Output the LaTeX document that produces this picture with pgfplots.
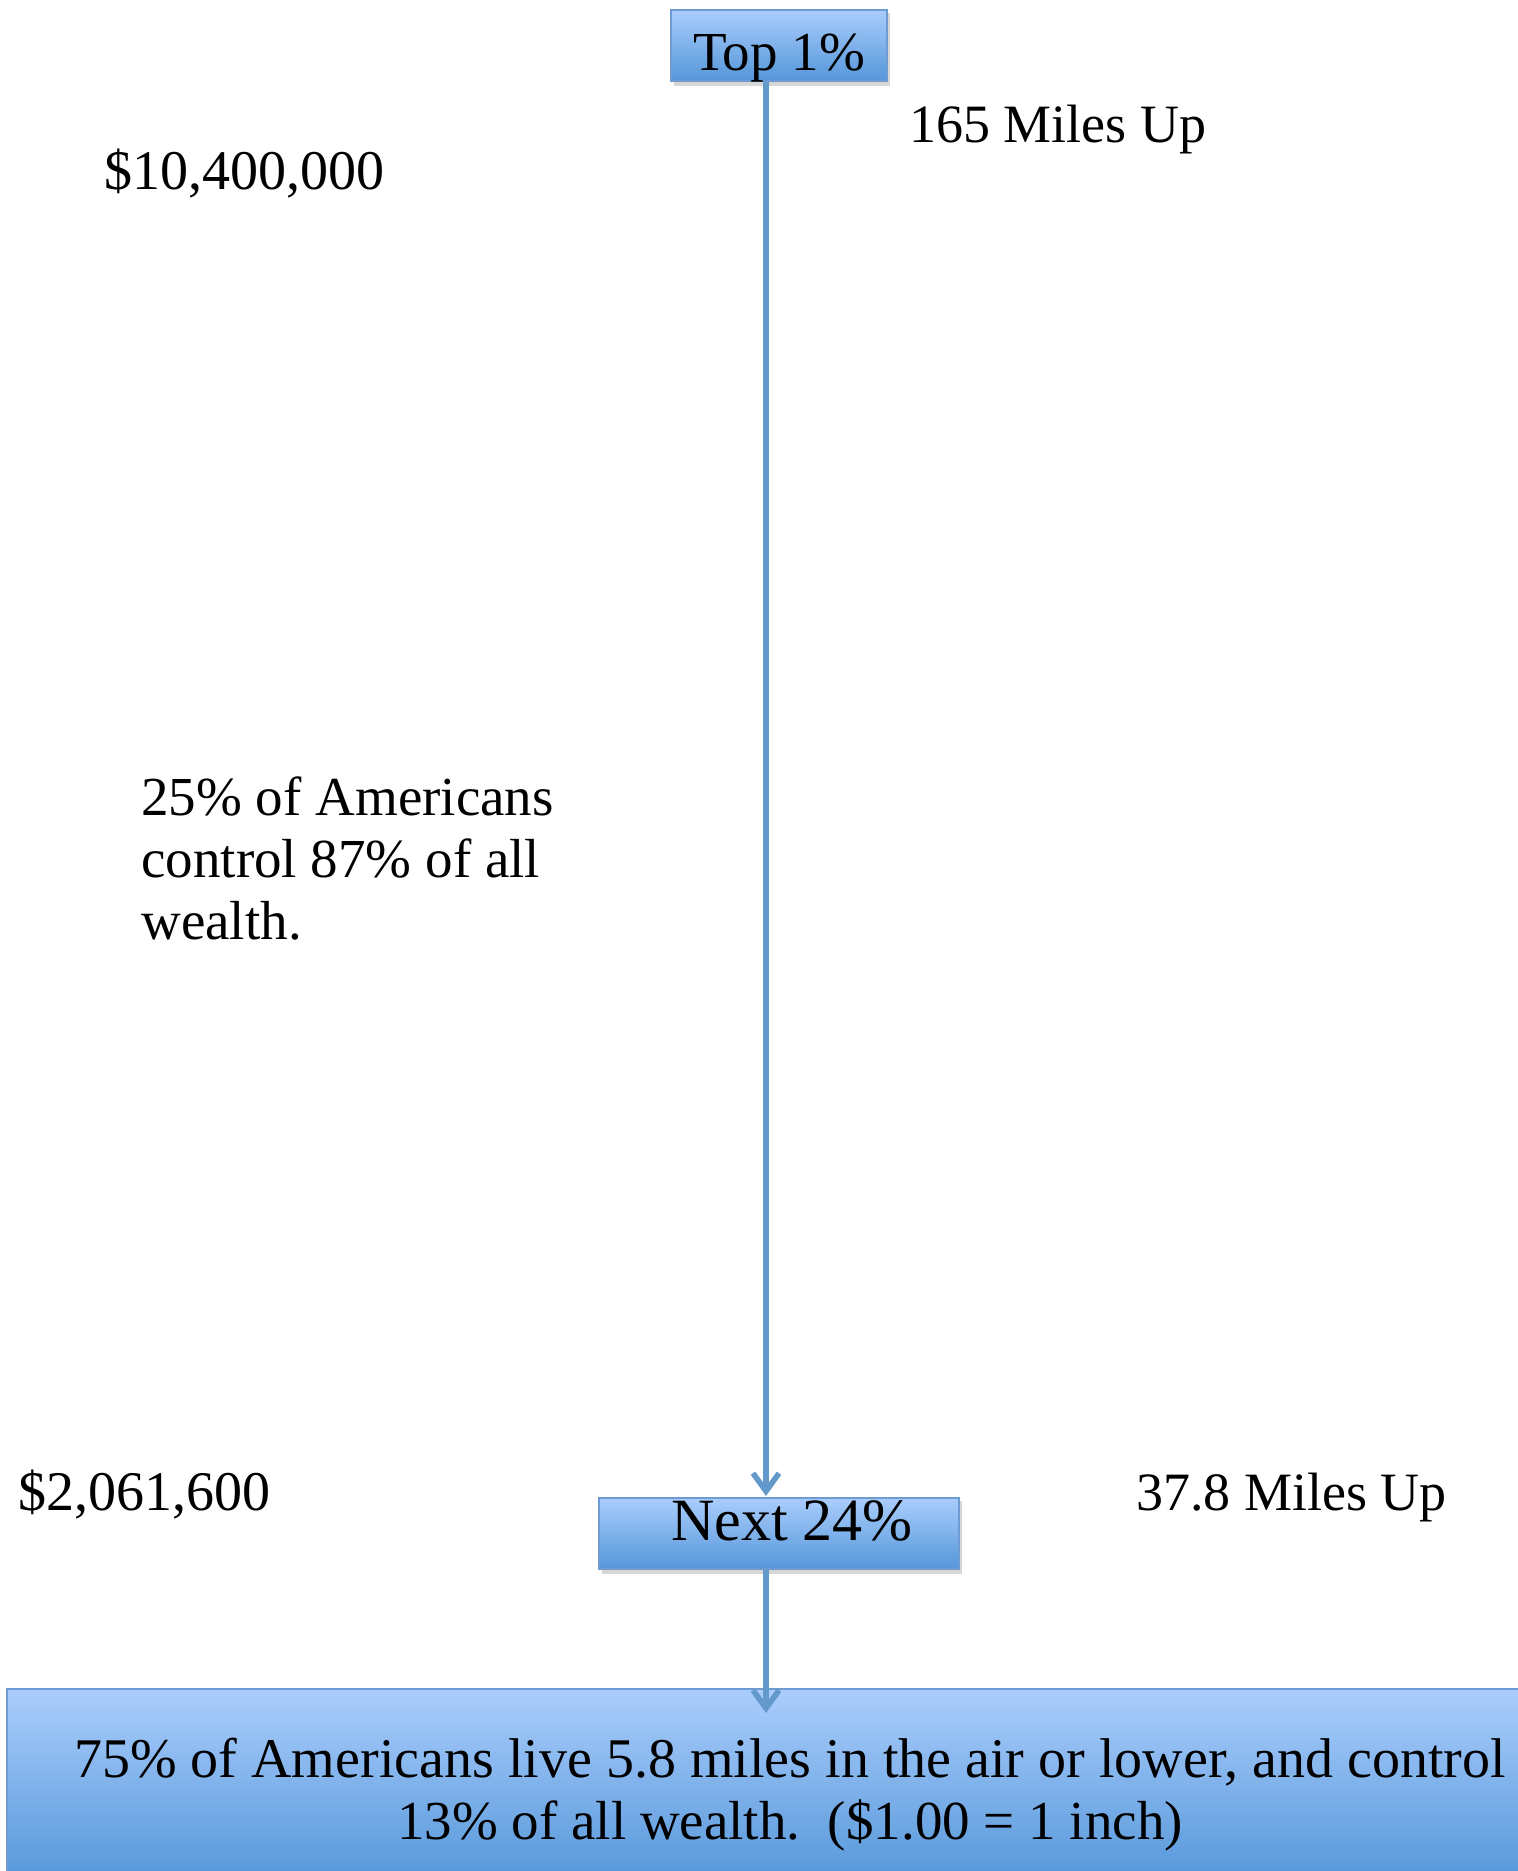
\documentclass[border=0pt]{standalone}
\usepackage{pgfplots}
\pgfplotsset{compat=1.18}
\usepackage{fontspec}
\setmainfont{Liberation Serif}
\usetikzlibrary{arrows.meta}
\definecolor{boxtop}{RGB}{170,205,252}
\definecolor{boxbot}{RGB}{84,150,217}
\definecolor{boxedge}{RGB}{110,155,210}
\definecolor{arrowc}{RGB}{100,153,204}
\tikzset{lbl/.style={inner sep=0pt, font=\fontsize{27.5}{31}\selectfont}}
\begin{document}
\begin{tikzpicture}
\begin{axis}[scale only axis, width=759pt, height=935.5pt,
  xmin=0, xmax=1518, ymin=0, ymax=1871, y dir=reverse,
  hide axis, clip=true]
% invisible frame to fix the picture size
\addplot[draw=none] coordinates {(0,0)(1518,1871)};
% shadows
\addplot[draw=none, fill=black, fill opacity=0.16] coordinates {(674,13)(890,13)(890,86)(674,86)} --cycle;
\addplot[draw=none, fill=black, fill opacity=0.16] coordinates {(602,1501)(962,1501)(962,1574)(602,1574)} --cycle;
% boxes
\addplot[draw=boxedge, line width=0.6pt, top color=boxtop, bottom color=boxbot] coordinates {(671,10)(887,10)(887,81)(671,81)} --cycle;
\addplot[draw=boxedge, line width=0.6pt, top color=boxtop, bottom color=boxbot] coordinates {(599,1498)(959,1498)(959,1569)(599,1569)} --cycle;
\addplot[draw=boxedge, line width=0.6pt, top color=boxtop, bottom color=boxbot] coordinates {(7,1689)(1530,1689)(1530,1885)(7,1885)} --cycle;
% arrows
\addplot[arrowc, line width=2.8pt, -{Straight Barb[length=9pt,width=13pt]}] coordinates {(766,82)(766,1496)};
\addplot[arrowc, line width=2.8pt, -{Straight Barb[length=9pt,width=13pt]}] coordinates {(766,1570)(766,1713)};
% texts
\node[lbl, anchor=base] at (axis cs:779,71) {Top 1\%};
\node[lbl, anchor=base west, font=\fontsize{27}{31}\selectfont] at (axis cs:909,143) {165 Miles Up};
\node[lbl, anchor=base west, font=\fontsize{28}{31}\selectfont] at (axis cs:104,190) {\$10,400,000};
\node[lbl, anchor=base west] at (axis cs:141,815) {25\% of Americans};
\node[lbl, anchor=base west] at (axis cs:141,877) {control 87\% of all};
\node[lbl, anchor=base west] at (axis cs:141,939) {wealth.};
\node[lbl, anchor=base west, font=\fontsize{28}{31}\selectfont] at (axis cs:18,1510) {\$2,061,600};
\node[lbl, anchor=base west, font=\fontsize{27}{31}\selectfont] at (axis cs:1136,1510) {37.8 Miles Up};
\node[lbl, anchor=base, font=\fontsize{30}{31}\selectfont] at (axis cs:792,1540) {Next 24\%};
\node[lbl, anchor=base, font=\fontsize{28}{31}\selectfont] at (axis cs:790,1777) {75\% of Americans live 5.8 miles in the air or lower, and control};
\node[lbl, anchor=base] at (axis cs:790,1839) {13\% of all wealth.\ \ (\$1.00 = 1 inch)};
\end{axis}
\end{tikzpicture}
\end{document}
